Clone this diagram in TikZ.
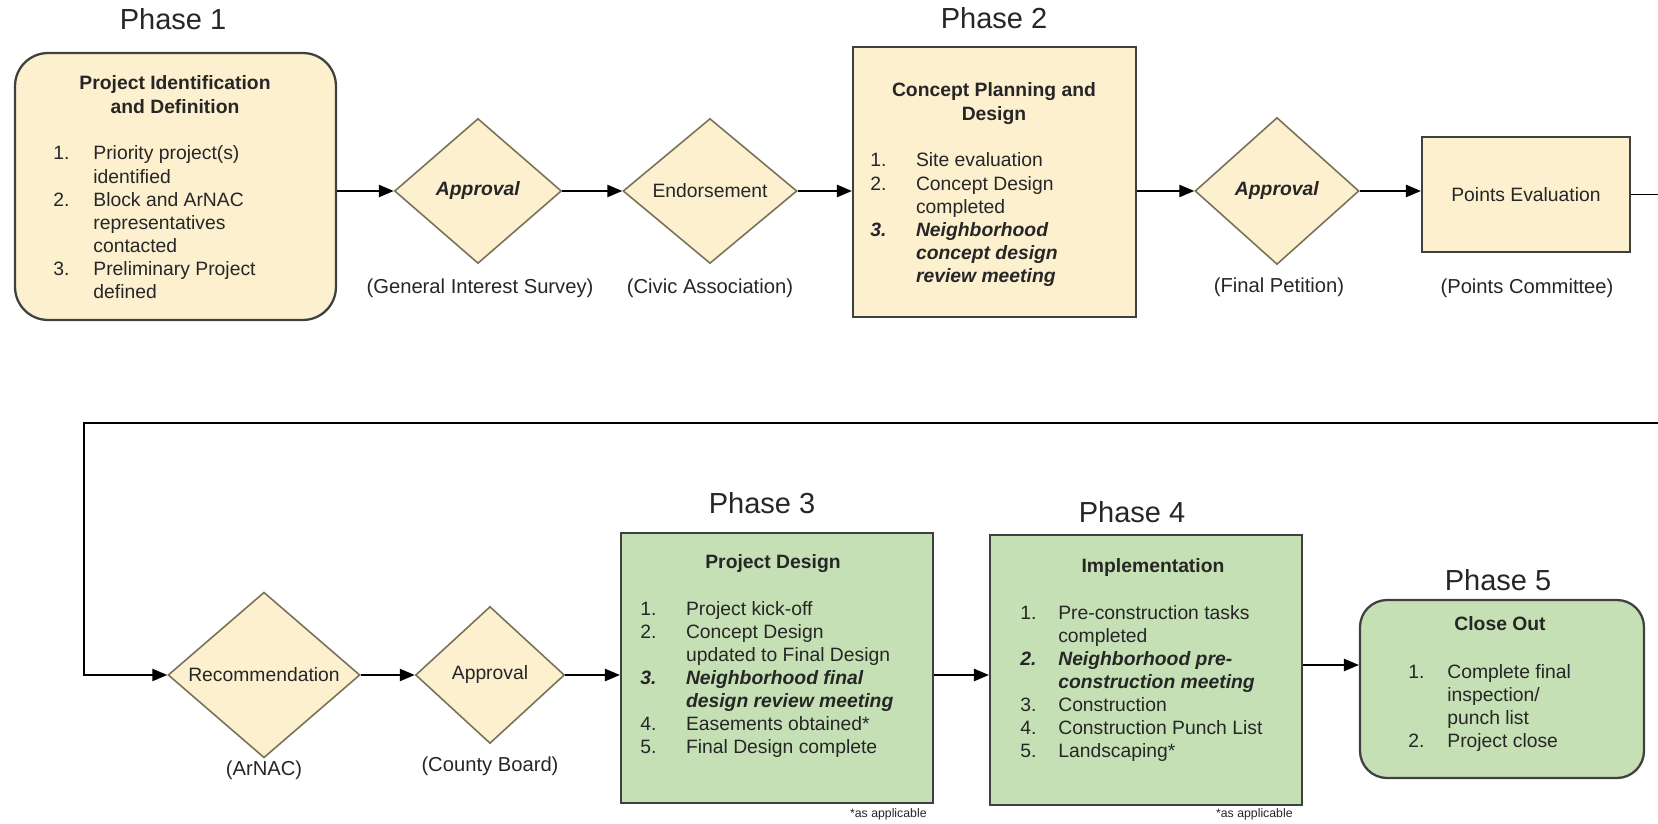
\documentclass[tikz,border=0pt]{standalone}
\usepackage{fontspec}
\setmainfont{Liberation Sans}
\usetikzlibrary{shapes.geometric,arrows.meta}
\definecolor{beige}{RGB}{252,240,207}
\definecolor{leaf}{RGB}{198,224,181}
\definecolor{edgegray}{RGB}{64,64,64}
\definecolor{dmdline}{RGB}{120,114,88}
\definecolor{ink}{RGB}{38,38,38}
\newcommand{\hi}[1]{\textbf{\textit{#1}}}
\tikzset{
  box/.style={draw=edgegray,line width=1.3pt,inner sep=0pt},
  dmd/.style={diamond,draw=dmdline,line width=0.9pt,fill=beige,inner sep=0pt,text=ink,font=\fontsize{11}{13}\selectfont},
  phase/.style={anchor=base,inner sep=0pt,text=ink,font=\fontsize{16.5}{20}\selectfont},
  title/.style={anchor=base,inner sep=0pt,text=ink,font=\fontsize{11}{13.1}\selectfont\bfseries},
  steps/.style={anchor=base west,inner sep=0pt,text=ink,font=\fontsize{11}{13.1}\selectfont},
  who/.style={inner sep=0pt,text=ink,font=\fontsize{11.5}{13}\selectfont},
  note/.style={anchor=base east,inner sep=0pt,text=ink,font=\fontsize{7}{8}\selectfont},
  flow/.style={line width=0.9pt,-{Triangle[length=8.5pt,width=7pt]}}
}
\begin{document}
\begin{tikzpicture}[x=0.02cm,y=-0.02cm]
\useasboundingbox (0,0) rectangle (1658,824);
\clip (0,0) rectangle (1658,824);
% top row
\node (ph1) [phase] at (173,30) {Phase 1};
\node (p1) [box,fill=beige,rounded corners=0.66cm,minimum width=6.42cm,minimum height=5.34cm] at (175.5,186.5) {};
\node (t1) [title] at (175,90) {\begin{tabular}[t]{@{}c@{}}Project Identification\\and Definition\end{tabular}};
\node (s1) [steps] at (53,160) {\begin{tabular}[t]{@{}p{22.8pt}@{}l@{}}
1. & Priority project(s)\\ & identified\\
2. & Block and ArNAC\\ & representatives\\ & contacted\\
3. & Preliminary Project\\ & defined
\end{tabular}};
%
\node (d1) [dmd,minimum width=3.34cm,minimum height=2.9cm] at (478,191) {\hi{Approval}};
\node (w1) [who] at (480,288) {(General Interest Survey)};
\node (d2) [dmd,minimum width=3.48cm,minimum height=2.9cm] at (710,191) {Endorsement};
\node (w2) [who] at (710,288) {(Civic Association)};
%
\node (ph2) [phase] at (994,29) {Phase 2};
\node (p2) [box,fill=beige,minimum width=5.66cm,minimum height=5.4cm] at (994.5,182) {};
\node (t2) [title] at (994,97) {\begin{tabular}[t]{@{}c@{}}Concept Planning and\\Design\end{tabular}};
\node (s2) [steps] at (870,167) {\begin{tabular}[t]{@{}p{26pt}@{}l@{}}
1. & Site evaluation\\
2. & Concept Design\\ & completed\\
\hi{3.} & \hi{Neighborhood}\\ & \hi{concept design}\\ & \hi{review meeting}
\end{tabular}};
%
\node (d3) [dmd,minimum width=3.28cm,minimum height=2.94cm] at (1277,191) {\hi{Approval}};
\node (w3) [who] at (1279,287) {(Final Petition)};
\node (pe) [box,fill=beige,text=ink,font=\fontsize{11}{13}\selectfont,minimum width=4.16cm,minimum height=2.3cm] at (1526,194.5) {Points Evaluation};
\node (w4) [who] at (1527,288) {(Points Committee)};
%
\draw [flow] (p1.east |- d1.west) -- (d1.west);
\draw [flow] (d1.east) -- (d2.west);
\draw [flow] (d2.east) -- (d2.east -| p2.west);
\draw [flow] (p2.east |- d3.west) -- (d3.west);
\draw [flow] (d3.east) -- (d3.east -| pe.west);
% bottom row
\node (rec) [dmd,minimum width=3.84cm,minimum height=2.74cm] at (264,675) {Recommendation};
\node (w5) [who] at (264,770) {(ArNAC)};
\node (app) [dmd,minimum width=2.98cm,minimum height=2.74cm] at (490,675) {Approval};
\node (w6) [who] at (490,766) {(County Board)};
% return line
\coordinate (turnR) at (1690,423);
\coordinate (turnL) at (84,423);
\draw [flow] (pe.east) -| (turnR) -- (turnL) |- (rec.west);
%
\node (ph3) [phase] at (762,513) {Phase 3};
\node (p3) [box,fill=leaf,minimum width=6.24cm,minimum height=5.4cm] at (777,668) {};
\node (t3) [title] at (773,568) {Project Design};
\node (s3) [steps] at (640,615) {\begin{tabular}[t]{@{}p{26pt}@{}l@{}}
1. & Project kick-off\\
2. & Concept Design\\ & updated to Final Design\\
\hi{3.} & \hi{Neighborhood final}\\ & \hi{design review meeting}\\
4. & Easements obtained*\\
5. & Final Design complete
\end{tabular}};
\node (n3) [note] at (927,817) {*as applicable};
%
\node (ph4) [phase] at (1132,522) {Phase 4};
\node (p4) [box,fill=leaf,minimum width=6.24cm,minimum height=5.4cm] at (1146,670) {};
\node (t4) [title] at (1153,572) {Implementation};
\node (s4) [steps] at (1020,619) {\begin{tabular}[t]{@{}p{21.6pt}@{}l@{}}
1. & Pre-construction tasks\\ & completed\\
\hi{2.} & \hi{Neighborhood pre-}\\ & \hi{construction meeting}\\
3. & Construction\\
4. & Construction Punch List\\
5. & Landscaping*
\end{tabular}};
\node (n4) [note] at (1293,817) {*as applicable};
%
\node (ph5) [phase] at (1498,590) {Phase 5};
\node (p5) [box,fill=leaf,rounded corners=0.54cm,minimum width=5.68cm,minimum height=3.56cm] at (1502,689) {};
\node (t5) [title] at (1500,630) {Close Out};
\node (s5) [steps] at (1408,678) {\begin{tabular}[t]{@{}p{22.2pt}@{}l@{}}
1. & Complete final\\ & inspection/\\ & punch list\\
2. & Project close
\end{tabular}};
%
\draw [flow] (rec.east) -- (app.west);
\draw [flow] (app.east) -- (app.east -| p3.west);
\draw [flow] (p3.east |- app.east) -- (p4.west |- app.east);
\draw [flow] ([yshift=0.1cm]p4.east) -- ([yshift=0.1cm]p4.east -| p5.west);
\end{tikzpicture}
\end{document}
